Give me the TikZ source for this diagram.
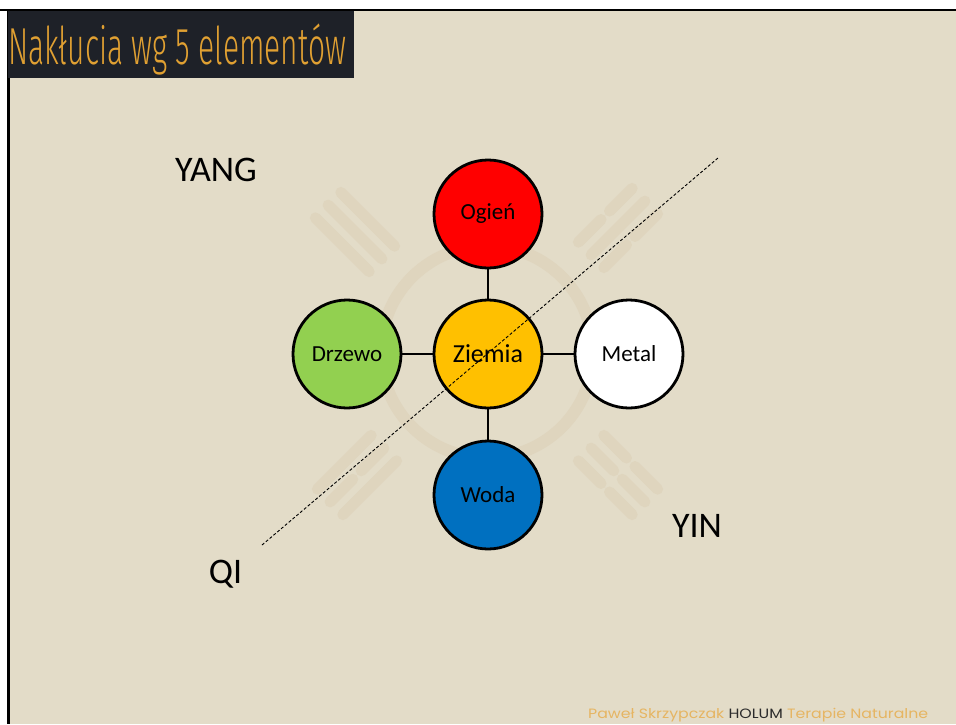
\documentclass[tikz,border=0pt]{standalone}
\usepackage{fontspec}
\setmainfont{Carlito}
\newfontfamily\titlefont{Fira Sans Light}
\newfontfamily\footfont{Poppins}
\definecolor{bg}{HTML}{E3DCC8}
\definecolor{wm}{HTML}{DFD5BE}
\definecolor{titlebg}{HTML}{1E2128}
\definecolor{titlefg}{HTML}{E0A032}
\definecolor{footfg}{HTML}{E6B562}
\definecolor{footdark}{HTML}{2B2B2B}
\definecolor{fire}{HTML}{FF0000}
\definecolor{earth}{HTML}{FFC000}
\definecolor{wood}{HTML}{92D050}
\definecolor{water}{HTML}{0070C0}
\tikzset{
  elem/.style={circle, draw=black, line width=2.8pt, minimum size=108pt, inner sep=0pt,
    font=\fontsize{23}{27}\selectfont, text=black},
  link/.style={line width=2.8pt, draw=black},
  side/.style={anchor=base, font=\fontsize{36}{40}\selectfont, text=black},
  bar/.style={line width=11pt, draw=wm, line cap=round},
}
\begin{document}
\begin{tikzpicture}[x=1pt,y=-1pt]
\useasboundingbox (0,0) rectangle (956,724);
\fill[white] (0,0) rectangle (956,724);
\fill[bg] (8,10) rectangle (956,724);
\draw[black, line width=2.5pt] (0,10.2) -- (956,10.2);
\draw[black, line width=2.5pt] (8.7,10) -- (8.7,724);
% title
\fill[titlebg] (7.5,11.4) rectangle (354,78);
\node[anchor=base west, inner sep=0pt, text=titlefg] (title) at (8,64.5)
  {\resizebox{338pt}{\height}{\titlefont\fontsize{52}{56}\selectfont Nakłucia wg 5 elementów}};
% watermark
\draw[wm, line width=12pt] (487,352) circle (106);
\begin{scope}[shift={(355,232)}, rotate=-45]
  \foreach \k in {-18,0,18} \draw[bar] (-38,\k) -- (38,\k);
\end{scope}
\begin{scope}[shift={(618,228)}, rotate=45]
  \draw[bar] (-38,-18) -- (-6,-18); \draw[bar] (6,-18) -- (38,-18);
  \draw[bar] (-38,0) -- (38,0);
  \draw[bar] (-38,18) -- (-6,18); \draw[bar] (6,18) -- (38,18);
\end{scope}
\begin{scope}[shift={(357,475)}, rotate=45]
  \draw[bar] (-38,-18) -- (38,-18);
  \draw[bar] (-38,0) -- (-6,0); \draw[bar] (6,0) -- (38,0);
  \draw[bar] (-38,18) -- (38,18);
\end{scope}
\begin{scope}[shift={(618,475)}, rotate=-45]
  \foreach \k in {-18,0,18} {\draw[bar] (-38,\k) -- (-6,\k); \draw[bar] (6,\k) -- (38,\k);}
\end{scope}
% elements
\node[elem, fill=fire] (ogien) at (488,214) {Ogień};
\node[elem, fill=earth, font=\fontsize{26}{30}\selectfont] (ziemia) at (488,354) {Ziemia};
\node[elem, fill=wood] (drzewo) at (347,354) {Drzewo};
\node[elem, fill=white] (metal) at (629,354) {Metal};
\node[elem, fill=water] (woda) at (488,495) {Woda};
\draw[link] (ogien) -- (ziemia);
\draw[link] (ziemia) -- (woda);
\draw[link] (drzewo) -- (ziemia);
\draw[link] (ziemia) -- (metal);
% qi line
\coordinate (qa) at (262,545);
\coordinate (qb) at (718,158);
\draw[black, line width=0.9pt, dash pattern=on 3pt off 2pt] (qa) -- (qb);
% labels
\node[side] (yang) at (216,181) {YANG};
\node[side] (qi) at (225.5,583) {QI};
\node[side] (yin) at (697,537) {YIN};
% footer
\node[anchor=base west, inner sep=0pt] (foot) at (588,718)
  {\resizebox{340pt}{\height}{\footfont\fontsize{13.5}{16}\selectfont\textcolor{footfg}{Paweł Skrzypczak}\ \textcolor{footdark}{HOLUM}\ \textcolor{footfg}{Terapie Naturalne}}};
\end{tikzpicture}
\end{document}
